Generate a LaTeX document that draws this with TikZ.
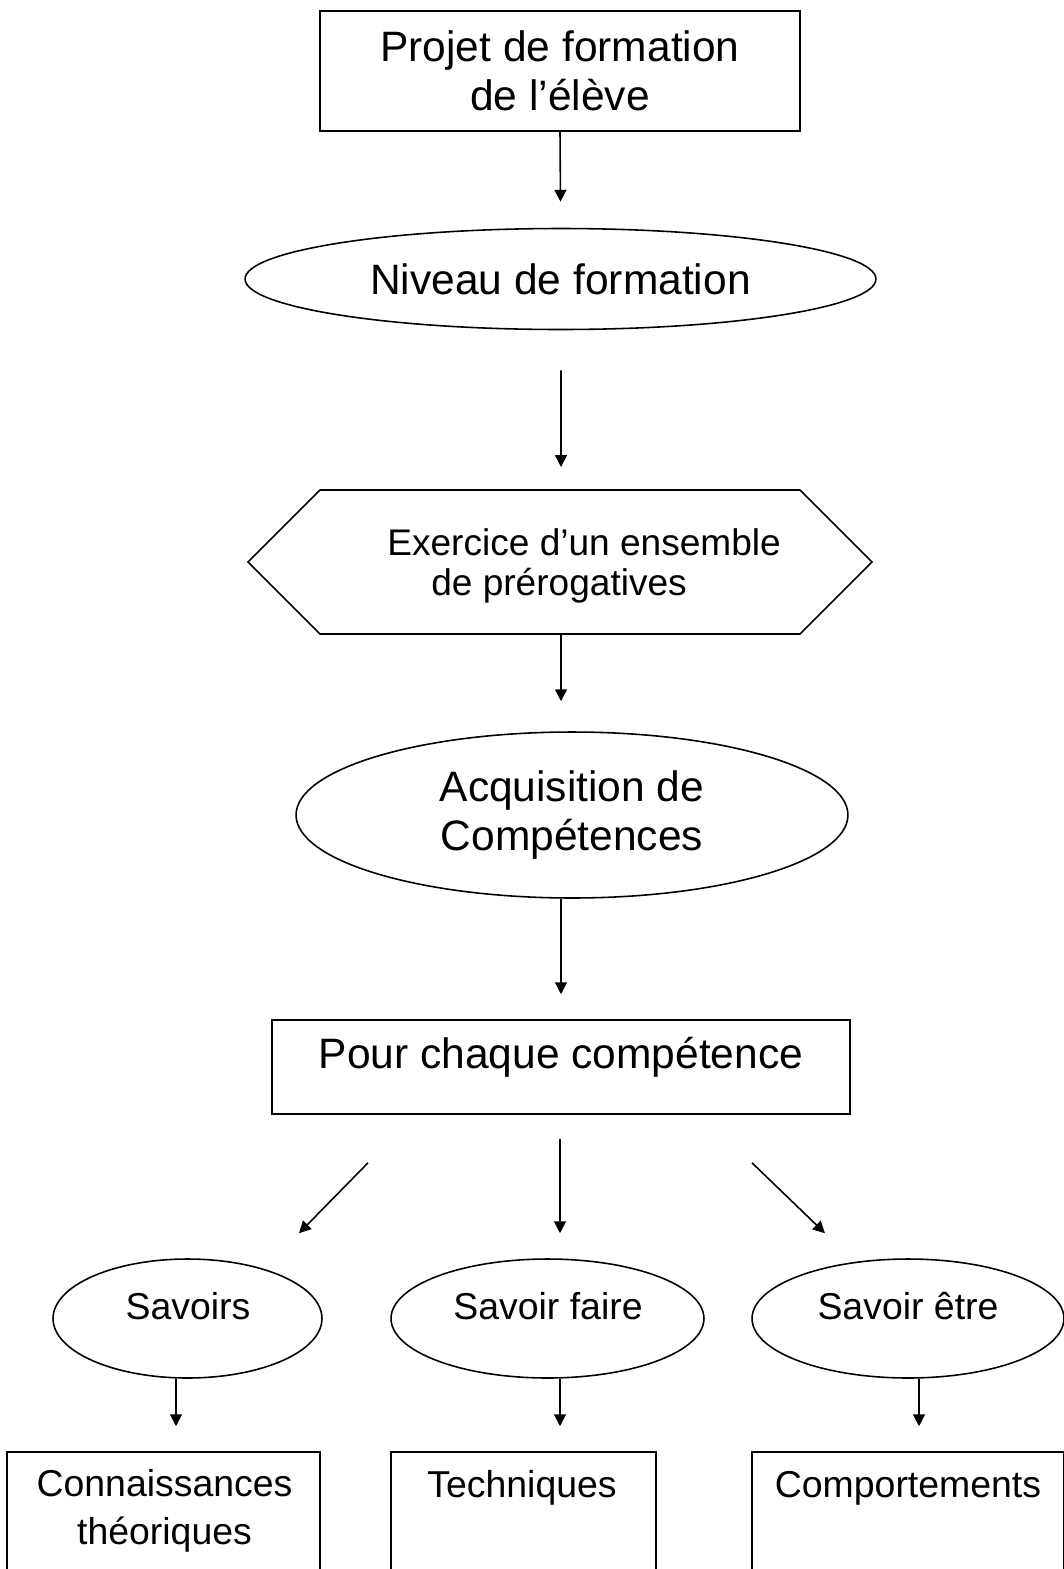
\documentclass[tikz,border=0pt]{standalone}
\usepackage{fontspec}
\setmainfont{Liberation Sans}
\usetikzlibrary{arrows.meta,shapes.geometric,calc}
\newcommand\bigtxt{\fontsize{24.2pt}{27.6pt}\selectfont}
\newcommand\smalltxt{\fontsize{21.3pt}{27pt}\selectfont}
\newcommand\hextxt{\fontsize{21.1pt}{22.7pt}\selectfont}
\begin{document}
\begin{tikzpicture}[x=0.02cm,y=-0.02cm,
  lw/.style={line width=0.9pt},
  arr/.style={lw,-{Triangle[length=6.8pt,width=6.8pt]}},
  boxnode/.style={draw,lw,rectangle,inner sep=0pt,align=center},
  ellnode/.style={draw,lw,ellipse,inner sep=0pt,align=center},
  txt/.style={inner sep=0pt,align=center}]
\clip (0,0) rectangle (1064,1569);
\fill[white] (0,0) rectangle (1064,1569);

% top box
\node[boxnode,minimum width=9.6cm,minimum height=2.4cm,font=\bigtxt] (b1) at (560,71)
  {Projet de formation\\de l’élève};
% ellipse 1
\node[ellnode,minimum width=12.62cm,minimum height=2.02cm,font=\bigtxt] (e1) at (560.5,279)
  {Niveau de formation};
% hexagon
\coordinate (hL) at (248,562);
\coordinate (hTL) at (320,490);
\coordinate (hTR) at (800,490);
\coordinate (hR) at (872,562);
\coordinate (hBR) at (800,634);
\coordinate (hBL) at (320,634);
\coordinate (hT) at (561,490);
\coordinate (hB) at (561,634);
\draw[lw,line join=miter] (hL) -- (hTL) -- (hTR) -- (hR) -- (hBR) -- (hBL) -- cycle;
\node[txt,anchor=west,align=left,font=\hextxt] (hx) at (387,566)
  {Exercice d’un ensemble\\\hspace*{25pt}de prérogatives};
% ellipse 2
\node[ellnode,minimum width=11.04cm,minimum height=3.32cm,font=\bigtxt] (e2) at (572,815)
  {Acquisition de\\Compétences};
% box pour chaque
\node[boxnode,minimum width=11.56cm,minimum height=1.88cm] (pc) at (561,1067) {};
\node[txt,font=\bigtxt] (pct) at (561,1057) {Pour chaque compétence};
% three ellipses
\node[ellnode,minimum width=5.38cm,minimum height=2.38cm] (s1) at (187.5,1318.5) {};
\node[ellnode,minimum width=6.26cm,minimum height=2.38cm] (s2) at (547.5,1318.5) {};
\node[ellnode,minimum width=6.24cm,minimum height=2.38cm] (s3) at (908,1318.5) {};
\node[txt,font=\smalltxt] (s1t) at (188,1306) {Savoirs};
\node[txt,font=\smalltxt] (s2t) at (548,1306) {Savoir faire};
\node[txt,font=\smalltxt] (s3t) at (908,1306) {Savoir être};
% bottom boxes
\node[boxnode,minimum width=6.26cm,minimum height=3.96cm] (c1) at (163.5,1551) {};
\node[boxnode,minimum width=5.3cm,minimum height=3.96cm] (c2) at (523.5,1551) {};
\node[boxnode,minimum width=6.24cm,minimum height=3.96cm] (c3) at (908,1551) {};
\node[txt,font=\smalltxt] (c1t) at (164.5,1511) {Connaissances\\théoriques};
\node[txt,font=\smalltxt] (c2t) at (522,1488) {Techniques};
\node[txt,font=\smalltxt] (c3t) at (908,1488) {Comportements};

% arrows
\draw[arr] (b1.south) -- ($(e1.north)+(0,-26)$);
\draw[arr] ($(e1.south)+(0.5,40)$) -- ($(hT)+(0,-23)$);
\draw[arr] (hB) -- ($(e2.north)+(-11,-30)$);
\draw[arr] ($(e2.south)+(-11,0)$) -- ($(pc.north)+(0,-25)$);
\draw[arr] ($(pc.south)+(-193,48)$) -- ($(s1.north)+(111.5,-25)$);
\draw[arr] ($(pc.south)+(-1,24)$) -- ($(s2.north)+(12.5,-25)$);
\draw[arr] ($(pc.south)+(191,48)$) -- ($(s3.north)+(-83,-25)$);
\draw[arr] ($(s1.south)+(-11.5,0)$) -- ($(c1.north)+(12.5,-25)$);
\draw[arr] ($(s2.south)+(12.5,0)$) -- ($(c2.north)+(36.5,-25)$);
\draw[arr] ($(s3.south)+(11,0)$) -- ($(c3.north)+(11,-25)$);
\end{tikzpicture}
\end{document}
